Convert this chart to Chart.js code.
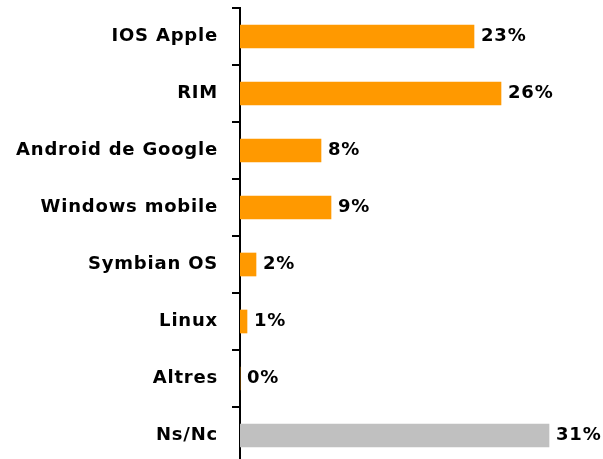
<!DOCTYPE html>
<html>
<head>
<meta charset="utf-8">
<script src="https://cdn.jsdelivr.net/npm/chart.js@4/dist/chart.umd.min.js"></script>
<style>
    html, body { margin: 0; padding: 0; background: #fff; overflow: hidden; }
    #wrap { position: relative; width: 603px; height: 464px; }
</style>
</head>
<body>
<div id="wrap"><canvas id="osChart"></canvas></div>
<script>
    // ── Data ──
    const categories = ['IOS Apple', 'RIM', 'Android de Google', 'Windows mobile',
                        'Symbian OS', 'Linux', 'Altres', 'Ns/Nc'];
    const shares     = [23.4, 26.1, 8.1, 9.1, 1.6, 0.7, 0, 30.9];
    const barColors  = ['#FF9900', '#FF9900', '#FF9900', '#FF9900',
                        '#FF9900', '#FF9900', '#FF9900', '#C0C0C0'];

    const FONT = { family: "'DejaVu Sans', sans-serif", size: 18, weight: 'bold' };

    // ── Century Gothic look: widen the letters a little ──
    const spacing = {
        id: 'spacing',
        beforeLayout(chart) { chart.ctx.letterSpacing = '0.8px'; },
        beforeDraw(chart)   { chart.ctx.letterSpacing = '0.8px'; }
    };

    // ── Percent labels at the end of every bar ──
    const valueLabels = {
        id: 'valueLabels',
        afterDatasetsDraw(chart) {
            const ctx  = chart.ctx;
            const meta = chart.getDatasetMeta(0);
            ctx.save();
            ctx.letterSpacing = '0.8px';
            ctx.font = `${FONT.weight} ${FONT.size}px ${FONT.family}`;
            ctx.fillStyle = '#000';
            ctx.textAlign = 'left';
            ctx.textBaseline = 'middle';
            meta.data.forEach((bar, i) => {
                ctx.fillText(Math.round(shares[i]) + '%', bar.x + 7, bar.y);
            });
            ctx.restore();
        }
    };

    new Chart(document.getElementById('osChart'), {
        type: 'bar',
        data: {
            labels: categories,
            datasets: [{
                data: shares,
                backgroundColor: barColors,
                borderWidth: 0,
                barThickness: 23
            }]
        },
        options: {
            indexAxis: 'y',
            responsive: true,
            maintainAspectRatio: false,
            animation: false,
            layout: { padding: { top: 8, right: 13, left: 0, bottom: 0 } },
            plugins: {
                legend: { display: false },
                tooltip: { enabled: false }
            },
            scales: {
                x: {
                    display: false,
                    min: 0,
                    max: 35
                },
                y: {
                    afterFit(scale) {
                        scale.width = 240;
                        // no extra room above/below for the labels
                        scale.paddingTop = 0;
                        scale.paddingBottom = 0;
                    },
                    border: { display: true, color: '#000', width: 2 },
                    grid: {
                        drawOnChartArea: false,
                        drawTicks: true,
                        tickLength: 8,
                        color: '#000',
                        lineWidth: 2
                    },
                    ticks: {
                        color: '#000',
                        padding: 14,
                        font: FONT
                    }
                }
            }
        },
        plugins: [spacing, valueLabels]
    });
</script>
</body>
</html>
